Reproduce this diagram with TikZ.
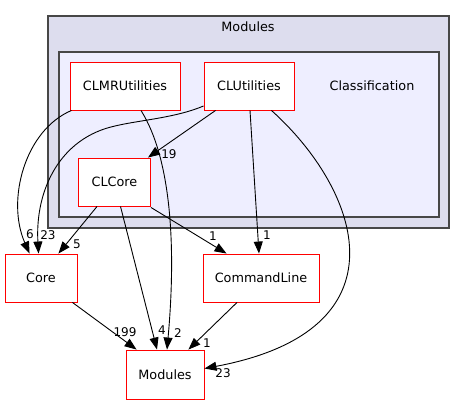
\documentclass[tikz,border=0pt]{standalone}
\usepackage{fontspec}
\setmainfont{DejaVu Sans}
\usetikzlibrary{arrows.meta, positioning, calc}

\begin{document}
\begin{tikzpicture}[x=1pt, y=-1pt,
    dir/.style={draw=red, fill=white, line width=0.9pt, inner sep=0pt, font=\fontsize{12.8}{15}\selectfont},
    group/.style={draw=black!72, line width=1.3pt, inner sep=0pt},
    dep/.style={line width=0.9pt, -{Triangle[length=12pt, width=9pt]}},
    num/.style={inner sep=0pt, font=\fontsize{12}{14}\selectfont}
]
    \useasboundingbox (0,0) rectangle (465,404);

    % Nested folders
    \node[group, fill={rgb,255:red,221;green,221;blue,238}, minimum width=401pt, minimum height=212pt] (outer) at (248.5,122) {};
    \node[font=\fontsize{12.8}{15}\selectfont] (outertitle) at (248,27) {Modules};
    \node[group, fill={rgb,255:red,238;green,238;blue,255}, minimum width=380pt, minimum height=165pt] (inner) at (249,134.5) {};
    \node[font=\fontsize{12.8}{15}\selectfont] (innertitle) at (372,86) {Classification};

    % Directories
    \node[dir, minimum width=110pt, minimum height=48pt] (clmr) at (125,86) {CLMRUtilities};
    \node[dir, minimum width=90pt, minimum height=48pt] (clutil) at (249,86) {CLUtilities};
    \node[dir, minimum width=72pt, minimum height=48pt] (clcore) at (114.5,182) {CLCore};
    \node[dir, minimum width=72pt, minimum height=48pt] (core) at (41,278) {Core};
    \node[dir, minimum width=116pt, minimum height=48pt] (cmdline) at (261,278) {CommandLine};
    \node[dir, minimum width=78pt, minimum height=49pt] (modules) at (165,374.5) {Modules};

    % Dependencies
    \draw[dep] ($(clmr.south west)+(2,0)$) .. controls (25,130) and (6,200) .. ($(core.north west)+(25,0)$);
    \draw[dep] ($(clutil.west)+(0,20)$) .. controls (175,118) and (140,120) .. (115,126)
        .. controls (60,138) and (35,190) .. ($(core.north west)+(34,0)$);
    \draw[dep] ($(clutil.south west)+(12,0)$) -- ($(clcore.north east)+(-3,0)$);
    \draw[dep] ($(clutil.south)+(1,0)$) -- ($(cmdline.north)+(-2,0)$);
    \draw[dep] ($(clutil.south east)+(-23,0)$) .. controls (360,190) and (410,330) .. ($(modules.east)+(0,-6)$);
    \draw[dep] ($(clmr.south)+(16,0)$) .. controls (172,160) and (176,250) .. ($(modules.north)+(2,0)$);
    \draw[dep] ($(clcore.south west)+(19,0)$) -- ($(core.north east)+(-19,0)$);
    \draw[dep] ($(clcore.south)+(6,0)$) -- ($(modules.north)+(-8,0)$);
    \draw[dep] ($(clcore.south east)+(0,1)$) -- ($(cmdline.north west)+(24,0)$);
    \draw[dep] ($(core.south east)+(-5,0)$) -- ($(modules.north west)+(11,0)$);
    \draw[dep] ($(cmdline.south)+(-24,0)$) -- ($(modules.north east)+(-16,0)$);

    % Counts
    \node[num] (n6) at (30,234) {6};
    \node[num] (n23a) at (48,235) {23};
    \node[num] (n5) at (77,244) {5};
    \node[num] (n19) at (169,154) {19};
    \node[num] (n1a) at (213,236) {1};
    \node[num] (n1b) at (267,235) {1};
    \node[num] (n199) at (125,332) {199};
    \node[num] (n4) at (162,330) {4};
    \node[num] (n2) at (178,333) {2};
    \node[num] (n1c) at (207,343) {1};
    \node[num] (n23b) at (223,373) {23};
\end{tikzpicture}
\end{document}
